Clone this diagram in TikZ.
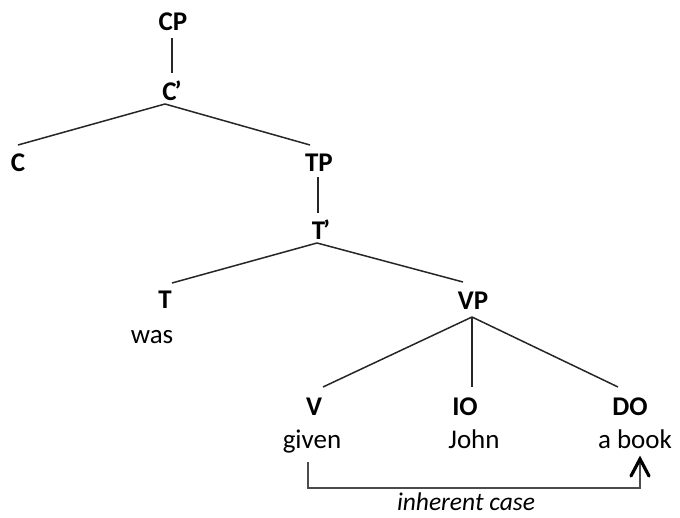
\documentclass[tikz,border=0pt]{standalone}
\usepackage{fontspec}
\setmainfont{Carlito}
\usetikzlibrary{calc,arrows.meta}
\tikzset{
  lab/.style={anchor=base, inner sep=0pt, font=\fontsize{27}{30}\selectfont\bfseries},
  word/.style={anchor=base, inner sep=0pt, font=\fontsize{27}{30}\selectfont},
  branch/.style={line width=1.5pt, black!85},
  caselink/.style={line width=1.5pt, black!70},
}
\begin{document}
\begin{tikzpicture}[x=1pt,y=-1pt]
\path[use as bounding box] (0,0) rectangle (680,518);
% nodes
\node[lab] (cp) at (173,31) {CP};
\node[lab] (c1) at (172,101) {C\kern-2pt’};
\node[lab] (c)  at (18,172) {C};
\node[lab] (tp) at (319,172) {TP};
\node[lab] (t1) at (321,240) {T\kern-2pt’};
\node[lab] (t)  at (165,309) {T};
\node[word] (was) at (152,344) {was};
\node[lab] (vp) at (473,310) {VP};
\node[lab] (v)  at (314,415) {V};
\node[lab] (io) at (465,415) {IO};
\node[lab] (do) at (630,415) {DO};
\node[word] (given) at (312,448) {given};
\node[word] (john)  at (474,448) {John};
\node[word] (book)  at (635,448) {a book};
\node[anchor=base, inner sep=0pt, font=\fontsize{25.5}{30}\selectfont\itshape] (ic) at (466,510) {inherent case};
% branches
\draw[branch] ($(cp.base)+(-1,7)$) -- ($(c1.base)+(0,-28)$);
\draw[branch] ($(c1.base)+(-7,3)$) -- ($(c.base)+(0,-27)$);
\draw[branch] ($(c1.base)+(-7,3)$) -- ($(tp.base)+(-9,-27)$);
\draw[branch] ($(tp.base)+(-1,5)$) -- ($(t1.base)+(-3,-27)$);
\draw[branch] ($(t1.base)+(-4,3)$) -- ($(t.base)+(7,-26)$);
\draw[branch] ($(t1.base)+(-4,3)$) -- ($(vp.base)+(-10,-28)$);
\draw[branch] ($(vp.base)+(-1,7)$) -- ($(v.base)+(9,-28)$);
\draw[branch] ($(vp.base)+(-1,7)$) -- ($(io.base)+(7,-28)$);
\draw[branch] ($(vp.base)+(-1,7)$) -- ($(do.base)+(-12,-28)$);
% inherent case link
\draw[caselink] ($(given.base)+(-4,14)$) |- ($(book.base)+(5,40)$) -- ($(book.base)+(5,12)$);
\draw[line width=3.2pt, line cap=round, line join=miter] ($(book.base)+(-4,28)$) -- ($(book.base)+(5,11)$) -- ($(book.base)+(14,28)$);
\end{tikzpicture}
\end{document}
